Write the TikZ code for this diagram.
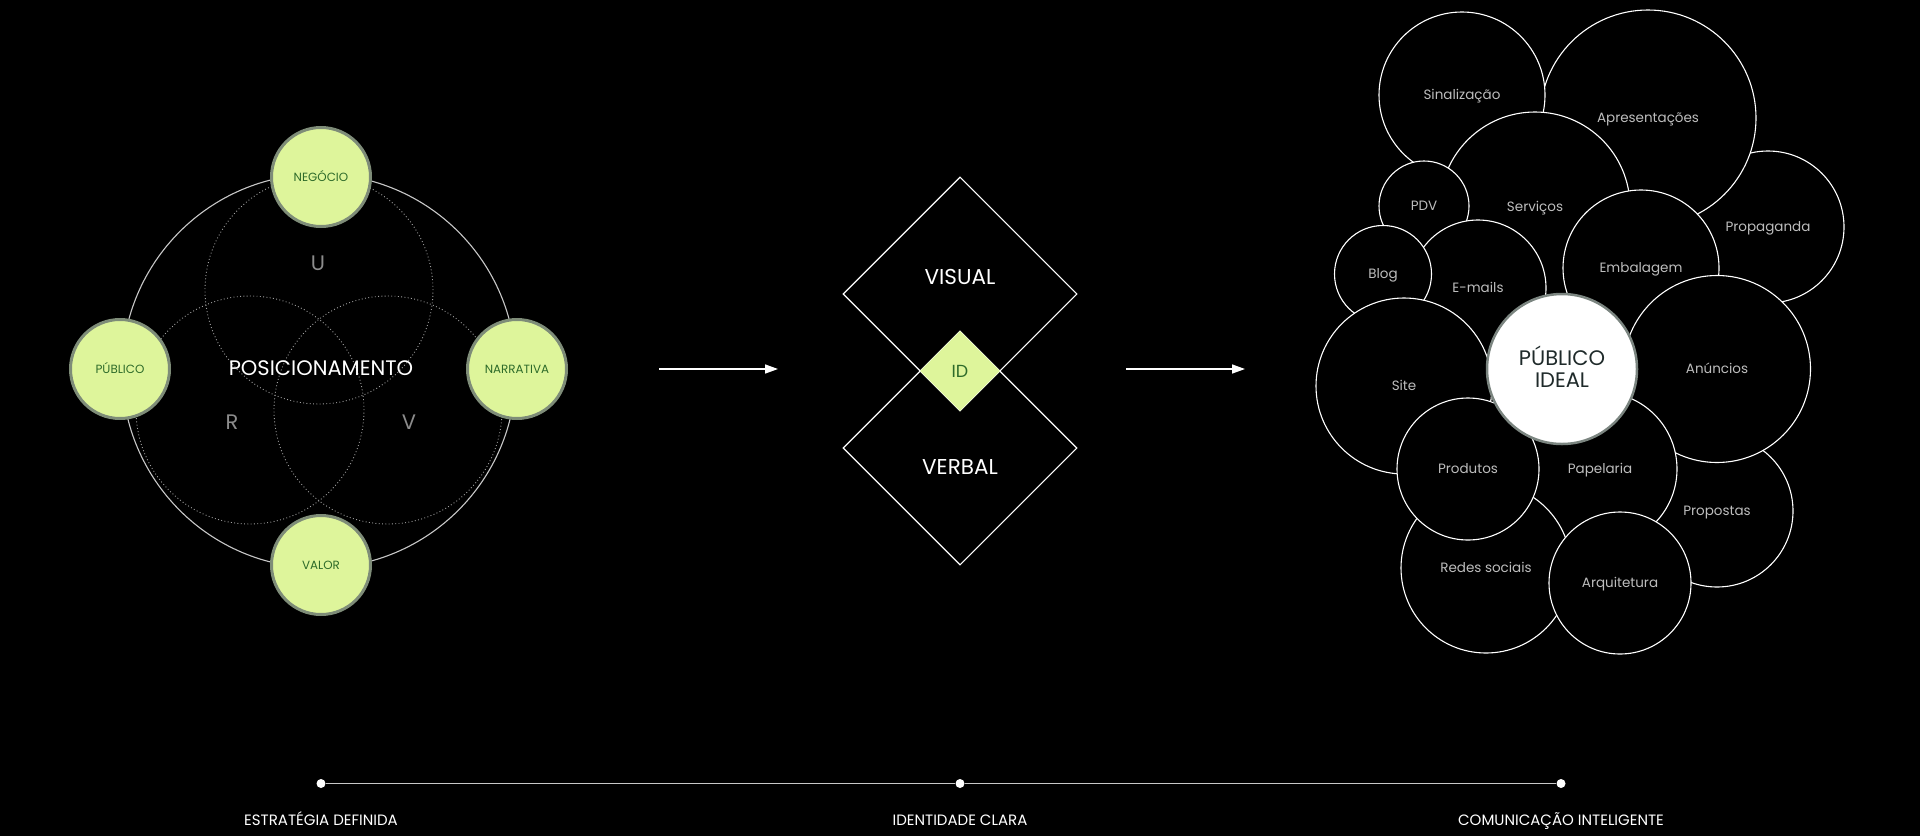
\documentclass[tikz,border=0pt]{standalone}
\usepackage{fontspec}
\setmainfont{Poppins}
\usetikzlibrary{shapes.geometric,arrows.meta}
\definecolor{lime}{HTML}{DEF59B}
\definecolor{limeborder}{HTML}{7E8C78}
\definecolor{dgreen}{HTML}{2E6B2A}
\definecolor{lgrey}{HTML}{BDBDBD}
\definecolor{ringgrey}{HTML}{C8C8C8}
\definecolor{dotgrey}{HTML}{A0A0A0}
\definecolor{letgrey}{HTML}{8C8C8C}
\definecolor{idealborder}{HTML}{7B8580}
\definecolor{idealtext}{HTML}{1F2A2A}
\begin{document}
\begin{tikzpicture}[x=1pt,y=-1pt,
  keypt/.style={circle, fill=lime, draw=limeborder, line width=3pt, minimum size=99pt, inner sep=0pt,
    text=dgreen, font=\fontsize{11.9}{14}\selectfont, text height=8.4pt, text depth=0pt},
  ring/.style={circle, draw=ringgrey, line width=1.1pt, inner sep=0pt},
  dotc/.style={circle, draw=dotgrey, line width=0.9pt, dash pattern=on 0.9pt off 2.4pt, inner sep=0pt, minimum size=228pt},
  big/.style={inner sep=0pt, text=white, font=\fontsize{21}{25}\selectfont, text height=14.7pt, text depth=0pt},
  letter/.style={inner sep=0pt, text=letgrey, font=\fontsize{21}{25}\selectfont, text height=14.7pt, text depth=0pt},
  dia/.style={diamond, aspect=1, draw=white, line width=1.1pt, inner sep=0pt, minimum size=234pt},
  iddia/.style={diamond, aspect=1, fill=lime, inner sep=0pt, minimum size=80pt},
  arr/.style={draw=white, line width=1.5pt, -{Triangle[length=13pt,width=9pt]}},
  bub/.style={circle, draw=white, line width=1.1pt, fill=black, inner sep=0pt, text=lgrey,
    font=\fontsize{13.5}{16}\selectfont, text height=9.6pt, text depth=0pt},
  tdot/.style={circle, fill=white, inner sep=0pt, minimum size=9pt},
  tlab/.style={inner sep=0pt, text=white, font=\fontsize{15}{18}\selectfont, text height=10.5pt, text depth=0pt},
]
\useasboundingbox (0,0) rectangle (1920,836);
\fill[black] (0,0) rectangle (1920,836);

% ---------- left: positioning ----------
\node[ring, minimum size=394pt] (ringc) at (319,371) {};
\node[dotc] (vu) at (319,290) {};
\node[dotc] (vr) at (250,410) {};
\node[dotc] (vv) at (388,410) {};
\node[keypt] (negocio) at (321,177) {NEGÓCIO};
\node[keypt] (publico) at (120,369) {PÚBLICO};
\node[keypt] (narrativa) at (517,369) {NARRATIVA};
\node[keypt] (valor) at (321,565) {VALOR};
\node[big] (posic) at (321,368) {POSICIONAMENTO};
\node[letter] (lu) at (318,263) {U};
\node[letter] (lr) at (232,422) {R};
\node[letter] (lv) at (409,422) {V};

% ---------- arrows ----------
\coordinate (a1s) at (659,369);
\coordinate (a1e) at (778,369);
\coordinate (a2s) at (1126,369);
\coordinate (a2e) at (1245,369);
\draw[arr] (a1s) -- (a1e);
\draw[arr] (a2s) -- (a2e);

% ---------- middle: identity ----------
\node[dia] (visual) at (960,294) {};
\node[dia] (verbal) at (960,448) {};
\node[iddia] (id) at (960,371) {};
\node[inner sep=0pt, text=dgreen, font=\fontsize{17.5}{20}\selectfont, text height=12.2pt, text depth=0pt] (idl) at (960,371) {ID};
\node[big, font=\fontsize{21.5}{25}\selectfont, text height=15pt] (visuall) at (960,277) {VISUAL};
\node[big, font=\fontsize{21.5}{25}\selectfont, text height=15pt] (verball) at (960,467) {VERBAL};

% ---------- right: communication bubbles ----------
\node[bub, minimum size=152pt] (propaganda) at (1768,227) {Propaganda};
\node[bub, minimum size=216pt] (apresentacoes) at (1648,118) {Apresentações};
\node[bub, minimum size=166pt] (sinalizacao) at (1462,95) {Sinalização};
\node[bub, minimum size=190pt] (servicos) at (1535,207) {Serviços};
\node[bub, minimum size=90pt] (pdv) at (1424,206) {PDV};
\node[bub, minimum size=136pt] (emails) at (1478,288) {E-mails};
\node[bub, minimum size=97pt] (blog) at (1383,274) {Blog};
\node[bub, minimum size=176pt] (site) at (1404,386) {Site};
\node[bub, minimum size=156pt] (embalagem) at (1641,268) {Embalagem};
\node[bub, minimum size=152pt] (propostas) at (1717,511) {Propostas};
\node[bub, minimum size=187pt] (anuncios) at (1717,369) {Anúncios};
\node[bub, minimum size=154pt] (papelaria) at (1600,469) {Papelaria};
\node[bub, minimum size=170pt] (redes) at (1486,568) {Redes sociais};
\node[bub, minimum size=142pt] (produtos) at (1468,469) {Produtos};
\node[bub, minimum size=142pt] (arquitetura) at (1620,583) {Arquitetura};
\node[circle, fill=white, draw=idealborder, line width=2.5pt, minimum size=150pt, inner sep=0pt] (ideal) at (1562,369) {};
\node[inner sep=0pt, text=idealtext, align=center, font=\fontsize{21}{22}\selectfont] (ideall) at (1562,366.5) {PÚBLICO\\IDEAL};

% ---------- timeline ----------
\node[tdot] (t1) at (321,783.5) {};
\node[tdot] (t2) at (960,783.5) {};
\node[tdot] (t3) at (1561,783.5) {};
\draw[ringgrey, line width=1.3pt] (t1) -- (t2) -- (t3);
\node[tlab] (l1) at (321,820) {ESTRATÉGIA DEFINIDA};
\node[tlab] (l2) at (960,820) {IDENTIDADE CLARA};
\node[tlab] (l3) at (1561,820) {COMUNICAÇÃO INTELIGENTE};
\end{tikzpicture}
\end{document}
